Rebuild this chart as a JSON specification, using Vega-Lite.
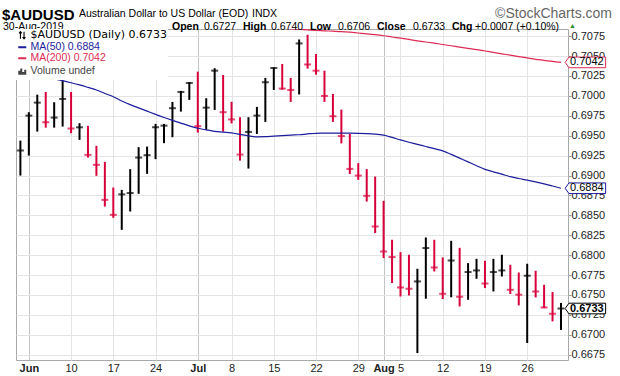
{
  "$schema": "https://vega.github.io/schema/vega-lite/v6.json",
  "width": 552,
  "height": 331,
  "autosize": "none",
  "padding": {"left": 16, "top": 29, "right": 52, "bottom": 16},
  "background": "white",
  "config": {"view": {"stroke": "#a8a8a8"}, "font": "Liberation Sans"},
  "datasets": {
    "px": [
      {"d":"2019-05-31","h":0.69438,"l":0.68999,"c":0.69313,"dir":"u","m50":0.70305},
      {"d":"2019-06-03","h":0.69795,"l":0.69250,"c":0.69752,"dir":"u","m50":0.70281},
      {"d":"2019-06-04","h":0.70015,"l":0.69551,"c":0.69915,"dir":"u","m50":0.70256},
      {"d":"2019-06-05","h":0.70049,"l":0.69601,"c":0.69669,"dir":"d","m50":0.70235},
      {"d":"2019-06-06","h":0.69920,"l":0.69601,"c":0.69727,"dir":"u","m50":0.70214},
      {"d":"2019-06-07","h":0.70191,"l":0.69614,"c":0.69961,"dir":"u","m50":0.70191},
      {"d":"2019-06-10","h":0.70049,"l":0.69531,"c":0.69590,"dir":"d","m50":0.70165},
      {"d":"2019-06-11","h":0.69657,"l":0.69447,"c":0.69605,"dir":"u","m50":0.70137},
      {"d":"2019-06-12","h":0.69623,"l":0.69225,"c":0.69259,"dir":"d","m50":0.70106},
      {"d":"2019-06-13","h":0.69372,"l":0.68996,"c":0.69134,"dir":"d","m50":0.70074},
      {"d":"2019-06-14","h":0.69171,"l":0.68610,"c":0.68694,"dir":"d","m50":0.70030},
      {"d":"2019-06-17","h":0.68849,"l":0.68469,"c":0.68506,"dir":"d","m50":0.69989},
      {"d":"2019-06-18","h":0.68820,"l":0.68318,"c":0.68763,"dir":"u","m50":0.69936},
      {"d":"2019-06-19","h":0.69080,"l":0.68548,"c":0.68780,"dir":"u","m50":0.69890},
      {"d":"2019-06-20","h":0.69356,"l":0.68770,"c":0.69225,"dir":"u","m50":0.69849},
      {"d":"2019-06-21","h":0.69363,"l":0.69021,"c":0.69255,"dir":"u","m50":0.69808},
      {"d":"2019-06-24","h":0.69648,"l":0.69205,"c":0.69606,"dir":"u","m50":0.69767},
      {"d":"2019-06-25","h":0.69648,"l":0.69406,"c":0.69626,"dir":"u","m50":0.69728},
      {"d":"2019-06-26","h":0.69924,"l":0.69481,"c":0.69845,"dir":"u","m50":0.69692},
      {"d":"2019-06-27","h":0.70062,"l":0.69802,"c":0.70049,"dir":"u","m50":0.69658},
      {"d":"2019-06-28","h":0.70171,"l":0.69949,"c":0.70162,"dir":"u","m50":0.69623},
      {"d":"2019-07-01","h":0.70304,"l":0.69539,"c":0.69619,"dir":"d","m50":0.69593},
      {"d":"2019-07-02","h":0.69970,"l":0.69573,"c":0.69852,"dir":"u","m50":0.69573},
      {"d":"2019-07-03","h":0.70347,"l":0.69823,"c":0.70316,"dir":"u","m50":0.69555},
      {"d":"2019-07-05","h":0.70262,"l":0.69551,"c":0.69795,"dir":"d","m50":0.69545},
      {"d":"2019-07-08","h":0.69926,"l":0.69654,"c":0.69704,"dir":"d","m50":0.69535},
      {"d":"2019-07-09","h":0.69732,"l":0.69187,"c":0.69263,"dir":"d","m50":0.69516},
      {"d":"2019-07-10","h":0.69732,"l":0.69087,"c":0.69547,"dir":"u","m50":0.69497},
      {"d":"2019-07-11","h":0.69861,"l":0.69522,"c":0.69752,"dir":"u","m50":0.69485},
      {"d":"2019-07-12","h":0.70225,"l":0.69673,"c":0.70171,"dir":"u","m50":0.69487},
      {"d":"2019-07-15","h":0.70359,"l":0.70074,"c":0.70350,"dir":"u","m50":0.69494,"m200":0.70855},
      {"d":"2019-07-16","h":0.70400,"l":0.70078,"c":0.70091,"dir":"d","m50":0.69500,"m200":0.70848},
      {"d":"2019-07-17","h":0.70225,"l":0.69924,"c":0.70074,"dir":"d","m50":0.69507,"m200":0.70842},
      {"d":"2019-07-18","h":0.70708,"l":0.70018,"c":0.70658,"dir":"u","m50":0.69512,"m200":0.70836},
      {"d":"2019-07-19","h":0.70767,"l":0.70342,"c":0.70394,"dir":"d","m50":0.69522,"m200":0.70828},
      {"d":"2019-07-22","h":0.70526,"l":0.70266,"c":0.70316,"dir":"d","m50":0.69530,"m200":0.70822},
      {"d":"2019-07-23","h":0.70316,"l":0.69924,"c":0.69999,"dir":"d","m50":0.69531,"m200":0.70817},
      {"d":"2019-07-24","h":0.70024,"l":0.69673,"c":0.69744,"dir":"d","m50":0.69531,"m200":0.70812},
      {"d":"2019-07-25","h":0.69827,"l":0.69403,"c":0.69495,"dir":"d","m50":0.69531,"m200":0.70807},
      {"d":"2019-07-26","h":0.69522,"l":0.69017,"c":0.69083,"dir":"d","m50":0.69531,"m200":0.70799},
      {"d":"2019-07-29","h":0.69155,"l":0.68945,"c":0.68999,"dir":"d","m50":0.69530,"m200":0.70789},
      {"d":"2019-07-30","h":0.69080,"l":0.68673,"c":0.68745,"dir":"d","m50":0.69527,"m200":0.70779},
      {"d":"2019-07-31","h":0.68987,"l":0.68277,"c":0.68360,"dir":"d","m50":0.69520,"m200":0.70768},
      {"d":"2019-08-01","h":0.68682,"l":0.67963,"c":0.68046,"dir":"d","m50":0.69506,"m200":0.70755},
      {"d":"2019-08-02","h":0.68193,"l":0.67650,"c":0.67976,"dir":"d","m50":0.69478,"m200":0.70739},
      {"d":"2019-08-05","h":0.68038,"l":0.67481,"c":0.67594,"dir":"d","m50":0.69447,"m200":0.70724},
      {"d":"2019-08-06","h":0.68005,"l":0.67494,"c":0.67578,"dir":"d","m50":0.69418,"m200":0.70708},
      {"d":"2019-08-07","h":0.67829,"l":0.66771,"c":0.67670,"dir":"u","m50":0.69391,"m200":0.70691},
      {"d":"2019-08-08","h":0.68222,"l":0.67453,"c":0.68089,"dir":"u","m50":0.69364,"m200":0.70676},
      {"d":"2019-08-09","h":0.68193,"l":0.67795,"c":0.67845,"dir":"d","m50":0.69337,"m200":0.70661},
      {"d":"2019-08-12","h":0.67971,"l":0.67449,"c":0.67515,"dir":"d","m50":0.69309,"m200":0.70645},
      {"d":"2019-08-13","h":0.68180,"l":0.67471,"c":0.67933,"dir":"u","m50":0.69265,"m200":0.70629},
      {"d":"2019-08-14","h":0.68092,"l":0.67356,"c":0.67478,"dir":"d","m50":0.69218,"m200":0.70612},
      {"d":"2019-08-15","h":0.67900,"l":0.67440,"c":0.67788,"dir":"u","m50":0.69171,"m200":0.70596},
      {"d":"2019-08-16","h":0.67954,"l":0.67703,"c":0.67808,"dir":"u","m50":0.69123,"m200":0.70581},
      {"d":"2019-08-19","h":0.67929,"l":0.67587,"c":0.67644,"dir":"d","m50":0.69077,"m200":0.70563},
      {"d":"2019-08-20","h":0.67954,"l":0.67544,"c":0.67788,"dir":"u","m50":0.69046,"m200":0.70546},
      {"d":"2019-08-21","h":0.68005,"l":0.67732,"c":0.67808,"dir":"u","m50":0.69017,"m200":0.70528},
      {"d":"2019-08-22","h":0.67879,"l":0.67512,"c":0.67565,"dir":"d","m50":0.68985,"m200":0.70511},
      {"d":"2019-08-23","h":0.67782,"l":0.67369,"c":0.67503,"dir":"d","m50":0.68962,"m200":0.70493},
      {"d":"2019-08-26","h":0.67892,"l":0.66897,"c":0.67741,"dir":"u","m50":0.68943,"m200":0.70476},
      {"d":"2019-08-27","h":0.67804,"l":0.67469,"c":0.67544,"dir":"d","m50":0.68920,"m200":0.70459},
      {"d":"2019-08-28","h":0.67628,"l":0.67336,"c":0.67343,"dir":"d","m50":0.68895,"m200":0.70446},
      {"d":"2019-08-29","h":0.67537,"l":0.67168,"c":0.67264,"dir":"d","m50":0.68868,"m200":0.70432},
      {"d":"2019-08-30","h":0.6740,"l":0.6706,"c":0.6733,"dir":"u","m50":0.6884,"m200":0.7042}
    ],
    "tags": [
      {"k":"m200","v":0.7042,"t":"0.7042"},
      {"k":"m50","v":0.6884,"t":"0.6884"},
      {"k":"px","v":0.6733,"t":"0.6733"}
    ]
  },
  "layer": [
    {
      "data": {"name": "px"},
      "mark": {"type": "rule", "strokeWidth": 2},
      "encoding": {
        "x": {
          "field": "d", "type": "ordinal",
          "scale": {"type": "point", "padding": 0.675, "align": 0.385},
          "axis": {
            "orient": "bottom", "title": null, "labelAngle": 0,
            "values": ["2019-06-03","2019-06-10","2019-06-17","2019-06-24","2019-07-01","2019-07-08","2019-07-15","2019-07-22","2019-07-29","2019-08-01","2019-08-05","2019-08-12","2019-08-19","2019-08-26"],
            "labelExpr": "datum.value == '2019-06-03' ? 'Jun' : datum.value == '2019-07-01' ? 'Jul' : datum.value == '2019-08-01' ? 'Aug' : '' + toNumber(substring(datum.value, 8, 10))",
            "grid": true,
            "gridColor": {"condition": {"test": "datum.value == '2019-06-03' || datum.value == '2019-07-01' || datum.value == '2019-08-01'", "value": "#c4c4c4"}, "value": "#e4e4e4"},
            "labelFontWeight": {"condition": {"test": "datum.value == '2019-06-03' || datum.value == '2019-07-01' || datum.value == '2019-08-01'", "value": "bold"}, "value": "normal"},
            "domain": false, "ticks": false, "labelPadding": 2,
            "labelFont": "Liberation Sans", "labelFontSize": 11, "labelColor": "#222", "labelOverlap": false
          }
        },
        "y": {
          "field": "l", "type": "quantitative",
          "scale": {"domain": [0.666836, 0.708394], "zero": false, "nice": false},
          "axis": {
            "orient": "right", "title": null, "format": ".4f", "tickCount": 17,
            "values": [0.6675,0.67,0.6725,0.675,0.6775,0.68,0.6825,0.685,0.6875,0.69,0.6925,0.695,0.6975,0.7,0.7025,0.705,0.7075],
            "grid": true, "gridColor": "#e4e4e4", "domain": false,
            "tickSize": 3, "tickColor": "#999", "labelPadding": 0, "labelOverlap": false,
            "labelFont": "Liberation Sans", "labelFontSize": 11, "labelColor": "#222"
          }
        },
        "y2": {"field": "h"},
        "stroke": {
          "field": "dir", "type": "nominal",
          "scale": {"domain": ["u","d","px","m50","m200"], "range": ["#000000","#d8003a","#000000","#1c1c9c","#dd2a55"]},
          "legend": null
        }
      }
    },
    {
      "data": {"name": "px"},
      "mark": {"type": "tick", "size": 7, "thickness": 2},
      "encoding": {
        "x": {"field": "d", "type": "ordinal"},
        "y": {"field": "c", "type": "quantitative"},
        "fill": {
          "field": "dir", "type": "nominal",
          "scale": {"domain": ["u","d"], "range": ["#000000","#d8003a"]},
          "legend": null
        }
      }
    },
    {
      "data": {"name": "px"},
      "transform": [{"fold": ["m50","m200"], "as": ["k","v"]}],
      "mark": {"type": "line", "strokeWidth": 1.2, "clip": true, "interpolate": "monotone"},
      "encoding": {
        "x": {"field": "d", "type": "ordinal"},
        "y": {"field": "v", "type": "quantitative"},
        "color": {
          "field": "k", "type": "nominal",
          "scale": {"domain": ["px","m50","m200","vol"], "range": ["#000000","#1c1c9c","#dd2a55","#444444"]},
          "legend": {
            "orient": "top-left", "offset": 0, "padding": 1, "title": null,
            "fillColor": "white", "rowPadding": 0, "symbolSize": 64, "labelOffset": 3,
            "labelFont": "Liberation Sans", "labelFontSize": 10.5,
            "labelExpr": "datum.value == 'px' ? '$AUDUSD (Daily) 0.6733' : datum.value == 'm50' ? 'MA(50) 0.6884' : datum.value == 'm200' ? 'MA(200) 0.7042' : 'Volume undef'",
            "encode": {
              "symbols": {"update": {
                "shape": {"signal": "datum.value == 'px' ? 'M-0.45,0.9L-0.45,-0.9M-0.8,-0.45L-0.45,-0.9L-0.1,-0.45M0.45,-0.9L0.45,0.9M0.1,0.45L0.45,0.9L0.8,0.45' : datum.value == 'vol' ? 'M-0.75,0.9L-0.75,-0.1M-0.25,0.9L-0.25,-0.7M0.25,0.9L0.25,0.2M0.75,0.9L0.75,-0.4' : 'M-1,0L1,0'"},
                "strokeWidth": {"signal": "datum.value == 'px' ? 1.1 : 2"},
                "fill": {"value": "transparent"}
              }},
              "labels": {"update": {
                "fill": {"signal": "datum.value == 'm50' ? '#1c1c9c' : datum.value == 'm200' ? '#dd2a55' : datum.value == 'vol' ? '#444444' : '#000000'"},
                "font": {"signal": "datum.value == 'px' ? 'DejaVu Sans' : 'Liberation Sans'"},
                "fontSize": {"signal": "datum.value == 'px' ? 11 : 10.5"}
              }}
            }
          }
        }
      }
    },
    {
      "data": {"name": "tags"},
      "mark": {"type": "point", "shape": "M0.22,0L0.42,-0.28L2.35,-0.28L2.35,0.28L0.42,0.28Z", "size": 1444, "filled": true, "fill": "white", "strokeWidth": 1, "opacity": 1},
      "encoding": {
        "x": {"datum": "2019-08-30", "type": "ordinal"},
        "y": {"field": "v", "type": "quantitative"},
        "stroke": {"field": "k", "type": "nominal", "legend": null}
      }
    },
    {
      "data": {"name": "tags"},
      "transform": [{"filter": "datum.k != 'px'"}],
      "mark": {"type": "text", "align": "left", "baseline": "middle", "dx": 9, "fontSize": 11, "font": "Liberation Sans", "fill": "#000"},
      "encoding": {
        "x": {"datum": "2019-08-30", "type": "ordinal"},
        "y": {"field": "v", "type": "quantitative"},
        "text": {"field": "t"}
      }
    },
    {
      "data": {"name": "tags"},
      "transform": [{"filter": "datum.k == 'px'"}],
      "mark": {"type": "text", "align": "left", "baseline": "middle", "dx": 9, "fontSize": 11, "fontWeight": "bold", "font": "Liberation Sans", "fill": "#000"},
      "encoding": {
        "x": {"datum": "2019-08-30", "type": "ordinal"},
        "y": {"field": "v", "type": "quantitative"},
        "text": {"field": "t"}
      }
    },
    {"data": {"values": [{}]}, "mark": {"type": "text", "text": "$AUDUSD", "x": -14, "y": -14, "align": "left", "font": "Liberation Sans", "fontWeight": "bold", "fontSize": 15, "fill": "#000"}},
    {"data": {"values": [{}]}, "mark": {"type": "text", "text": "Australian Dollar to US Dollar (EOD)", "x": 63, "y": -15, "align": "left", "fontSize": 10.5, "fill": "#000"}},
    {"data": {"values": [{}]}, "mark": {"type": "text", "text": "INDX", "x": 236, "y": -15, "align": "left", "fontSize": 10.5, "fill": "#000"}},
    {"data": {"values": [{}]}, "mark": {"type": "text", "text": "©StockCharts.com", "x": 596, "y": -15, "align": "right", "fontSize": 14, "fill": "#666"}},
    {"data": {"values": [{}]}, "mark": {"type": "text", "text": "30-Aug-2019", "x": -13, "y": -2, "align": "left", "fontSize": 10.5, "fill": "#000"}},
    {"data": {"values": [{}]}, "mark": {"type": "text", "text": "Open", "x": 156, "y": -2, "align": "left", "fontSize": 10.5, "fontWeight": "bold", "fill": "#000"}},
    {"data": {"values": [{}]}, "mark": {"type": "text", "text": "0.6727", "x": 188, "y": -2, "align": "left", "fontSize": 10.5, "fill": "#000"}},
    {"data": {"values": [{}]}, "mark": {"type": "text", "text": "High", "x": 227, "y": -2, "align": "left", "fontSize": 10.5, "fontWeight": "bold", "fill": "#000"}},
    {"data": {"values": [{}]}, "mark": {"type": "text", "text": "0.6740", "x": 255, "y": -2, "align": "left", "fontSize": 10.5, "fill": "#000"}},
    {"data": {"values": [{}]}, "mark": {"type": "text", "text": "Low", "x": 294, "y": -2, "align": "left", "fontSize": 10.5, "fontWeight": "bold", "fill": "#000"}},
    {"data": {"values": [{}]}, "mark": {"type": "text", "text": "0.6706", "x": 322, "y": -2, "align": "left", "fontSize": 10.5, "fill": "#000"}},
    {"data": {"values": [{}]}, "mark": {"type": "text", "text": "Close", "x": 361, "y": -2, "align": "left", "fontSize": 10.5, "fontWeight": "bold", "fill": "#000"}},
    {"data": {"values": [{}]}, "mark": {"type": "text", "text": "0.6733", "x": 397, "y": -2, "align": "left", "fontSize": 10.5, "fill": "#000"}},
    {"data": {"values": [{}]}, "mark": {"type": "text", "text": "Chg", "x": 436, "y": -2, "align": "left", "fontSize": 10.5, "fontWeight": "bold", "fill": "#000"}},
    {"data": {"values": [{}]}, "mark": {"type": "text", "text": "+0.0007 (+0.10%)", "x": 459, "y": -2, "align": "left", "fontSize": 10.5, "fill": "#000"}},
    {"data": {"values": [{}]}, "mark": {"type": "text", "text": "▲", "x": 553, "y": -3, "align": "left", "fontSize": 7, "fill": "#2d8f2d"}}
  ]
}
